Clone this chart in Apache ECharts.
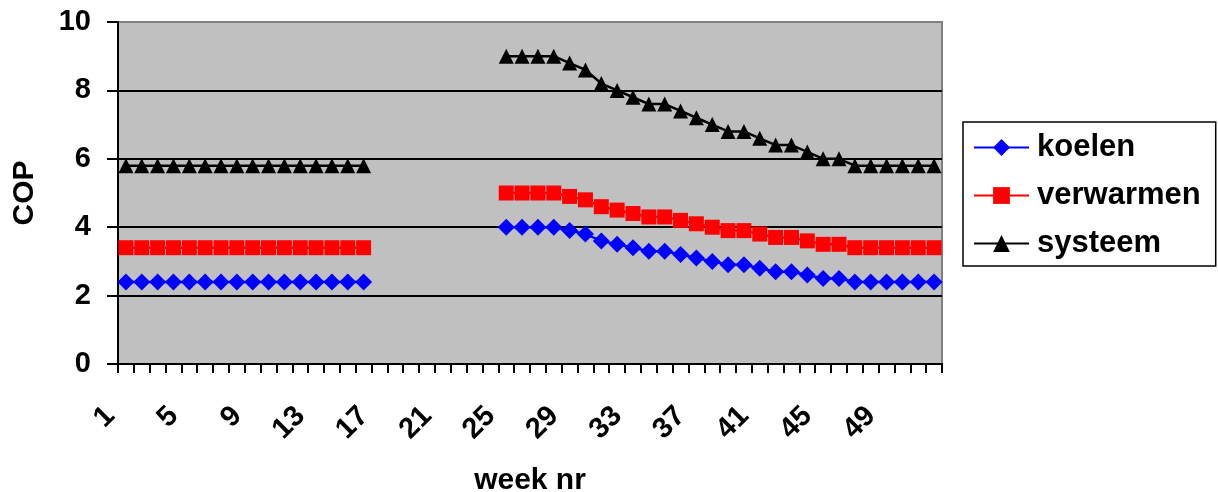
<!DOCTYPE html>
<html>
<head>
<meta charset="utf-8">
<script src="https://cdn.jsdelivr.net/npm/echarts@6/dist/echarts.min.js"></script>
<style>
html,body{margin:0;padding:0;background:#fff;}
#c{width:1218px;height:492px;}
</style>
</head>
<body>
<div id="c"></div>
<script>
const weeks = ["1","2","3","4","5","6","7","8","9","10","11","12","13","14","15","16","17","18","19","20","21","22","23","24","25","26","27","28","29","30","31","32","33","34","35","36","37","38","39","40","41","42","43","44","45","46","47","48","49","50","51","52"];
const koelen = [2.4,2.4,2.4,2.4,2.4,2.4,2.4,2.4,2.4,2.4,2.4,2.4,2.4,2.4,2.4,2.4,
  null,null,null,null,null,null,null,null,
  4.0,4.0,4.0,4.0,3.9,3.8,3.6,3.5,3.4,3.3,3.3,3.2,3.1,3.0,2.9,2.9,2.8,2.7,2.7,2.6,2.5,2.5,2.4,2.4,2.4,2.4,2.4,2.4];
const verwarmen = [3.4,3.4,3.4,3.4,3.4,3.4,3.4,3.4,3.4,3.4,3.4,3.4,3.4,3.4,3.4,3.4,
  null,null,null,null,null,null,null,null,
  5.0,5.0,5.0,5.0,4.9,4.8,4.6,4.5,4.4,4.3,4.3,4.2,4.1,4.0,3.9,3.9,3.8,3.7,3.7,3.6,3.5,3.5,3.4,3.4,3.4,3.4,3.4,3.4];
const systeem = [5.8,5.8,5.8,5.8,5.8,5.8,5.8,5.8,5.8,5.8,5.8,5.8,5.8,5.8,5.8,5.8,
  null,null,null,null,null,null,null,null,
  9.0,9.0,9.0,9.0,8.8,8.6,8.2,8.0,7.8,7.6,7.6,7.4,7.2,7.0,6.8,6.8,6.6,6.4,6.4,6.2,6.0,6.0,5.8,5.8,5.8,5.8,5.8,5.8];
const seriesNames = ["koelen","verwarmen","systeem"];
const yTicks = [0,2,4,6,8,10];

const FONT = '"Liberation Sans", Arial, sans-serif';
const chart = echarts.init(document.getElementById('c'), null, {renderer:'canvas'});
const mk = (name, data, color, symbol, size) => ({
  name, type:'line', data, connectNulls:false,
  symbol, symbolSize:size, showAllSymbol:true,
  lineStyle:{color, width:2.5},
  itemStyle:{color, borderWidth:0},
  emphasis:{disabled:true},
  animation:false
});
chart.setOption({
  animation:false,
  textStyle:{fontFamily:FONT},
  grid:{left:118, right:276, top:22, bottom:128, outerBoundsMode:'none', containLabel:false,
        show:true, backgroundColor:'#C0C0C0', borderColor:'#808080', borderWidth:2},
  legend:{
    orient:'vertical', left:963, top:122,
    data:seriesNames,
    itemWidth:55, itemHeight:21, itemGap:17,
    padding:[10,15,7,10],
    borderColor:'#000', borderWidth:1.5, backgroundColor:'#fff',
    textStyle:{fontFamily:FONT, fontWeight:'bold', fontSize:31, color:'#000', padding:[0,0,0,3]}
  },
  xAxis:{
    type:'category', data:weeks, boundaryGap:true,
    name:'week nr', nameLocation:'middle', nameGap:102,
    nameTextStyle:{fontFamily:FONT, fontWeight:'bold', fontSize:30, color:'#000'},
    axisLine:{lineStyle:{color:'#000', width:2}},
    axisTick:{show:true, interval:0, length:9, lineStyle:{color:'#000', width:2}},
    axisLabel:{interval:3, rotate:45, margin:32, padding:[0,22,0,0], fontFamily:FONT, fontWeight:'bold', fontSize:29, color:'#000'},
    splitLine:{show:false}
  },
  yAxis:{
    type:'value', min:yTicks[0], max:yTicks[yTicks.length-1], interval:2,
    name:'COP', nameLocation:'middle', nameGap:78, nameRotate:90,
    nameTextStyle:{fontFamily:FONT, fontWeight:'bold', fontSize:30, color:'#000'},
    axisLine:{show:true, lineStyle:{color:'#000', width:2}},
    axisTick:{show:true, length:11, lineStyle:{color:'#000', width:2}},
    axisLabel:{margin:27, fontFamily:FONT, fontWeight:'bold', fontSize:29, color:'#000'},
    splitLine:{show:true, showMaxLine:false, lineStyle:{color:'#000', width:2}}
  },
  series:[
    mk(seriesNames[0], koelen, '#0000FF', 'diamond', 17),
    mk(seriesNames[1], verwarmen, '#FF0000', 'rect', 15),
    mk(seriesNames[2], systeem, '#000000', 'triangle', 15)
  ]
});
</script>
</body>
</html>
